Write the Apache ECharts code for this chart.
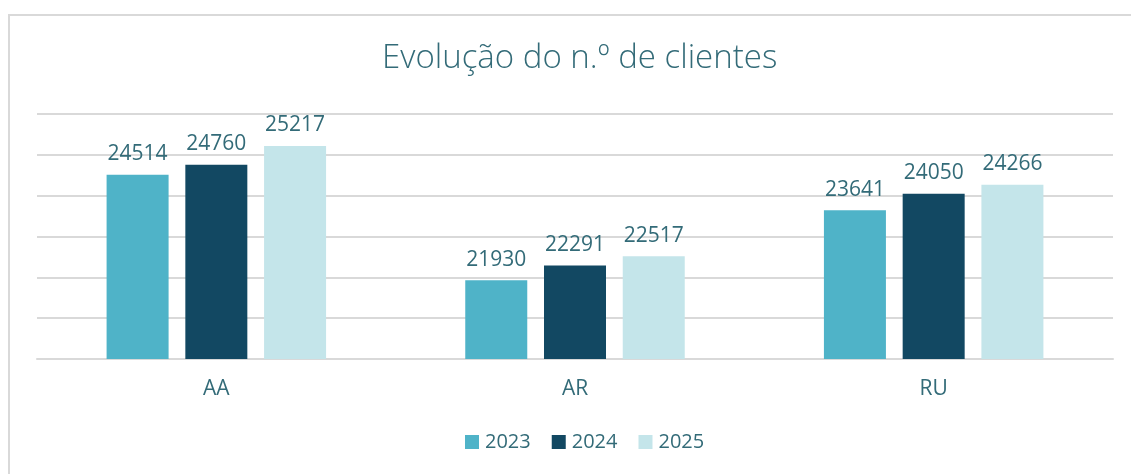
<!DOCTYPE html>
<html>
<head>
<meta charset="utf-8">
<script src="https://cdn.jsdelivr.net/npm/echarts@6/dist/echarts.min.js"></script>
<style>
  html, body { margin: 0; padding: 0; background: #fff; }
  #frame { position: absolute; left: 8px; top: 14px; width: 1140px; height: 480px; border: 2px solid #d9d9d9; box-sizing: border-box; }
  #chart { position: absolute; left: 0; top: 0; width: 1131px; height: 474px; }
</style>
</head>
<body>
<div id="frame"></div>
<div id="chart"></div>
<script>
// dados
var categories = ['AA', 'AR', 'RU'];
var years = ['2023', '2024', '2025'];
var values2023 = [24514, 21930, 23641];
var values2024 = [24760, 22291, 24050];
var values2025 = [25217, 22517, 24266];
var colors = ['#4FB3C8', '#124862', '#C4E5EA'];
var textColor = '#336b78';
var font = '"Open Sans", "Noto Sans", sans-serif';

var chart = echarts.init(document.getElementById('chart'));

function makeSeries(name, data, color) {
  return {
    name: name,
    type: 'bar',
    data: data,
    barWidth: 62,
    barGap: '27%',
    itemStyle: { color: color },
    label: {
      show: true,
      position: 'top',
      distance: 10,
      color: textColor,
      fontFamily: font,
      fontSize: 21
    }
  };
}

chart.setOption({
  animation: false,
  title: {
    text: 'Evolução do n.º de clientes',
    left: 377,
    top: 37,
    textStyle: { color: textColor, fontFamily: font, fontSize: 33, fontWeight: 300 }
  },
  legend: {
    bottom: 17,
    left: 460,
    itemWidth: 14,
    itemHeight: 14,
    itemGap: 21,
    icon: 'rect',
    textStyle: { color: textColor, fontFamily: font, fontSize: 20, padding: [0, 0, 0, 1] },
    data: years
  },
  grid: { left: 37, right: 18, top: 114, bottom: 115 },
  xAxis: {
    type: 'category',
    data: categories,
    axisTick: { show: false },
    axisLine: { lineStyle: { color: '#d9d9d9', width: 2 } },
    axisLabel: { color: textColor, fontFamily: font, fontSize: 21, margin: 20 }
  },
  yAxis: {
    type: 'value',
    min: 20000,
    max: 26000,
    interval: 1000,
    axisLabel: { show: false },
    axisLine: { show: false },
    axisTick: { show: false },
    splitLine: { lineStyle: { color: '#d9d9d9', width: 2 } }
  },
  series: [
    makeSeries(years[0], values2023, colors[0]),
    makeSeries(years[1], values2024, colors[1]),
    makeSeries(years[2], values2025, colors[2])
  ]
});
</script>
</body>
</html>
